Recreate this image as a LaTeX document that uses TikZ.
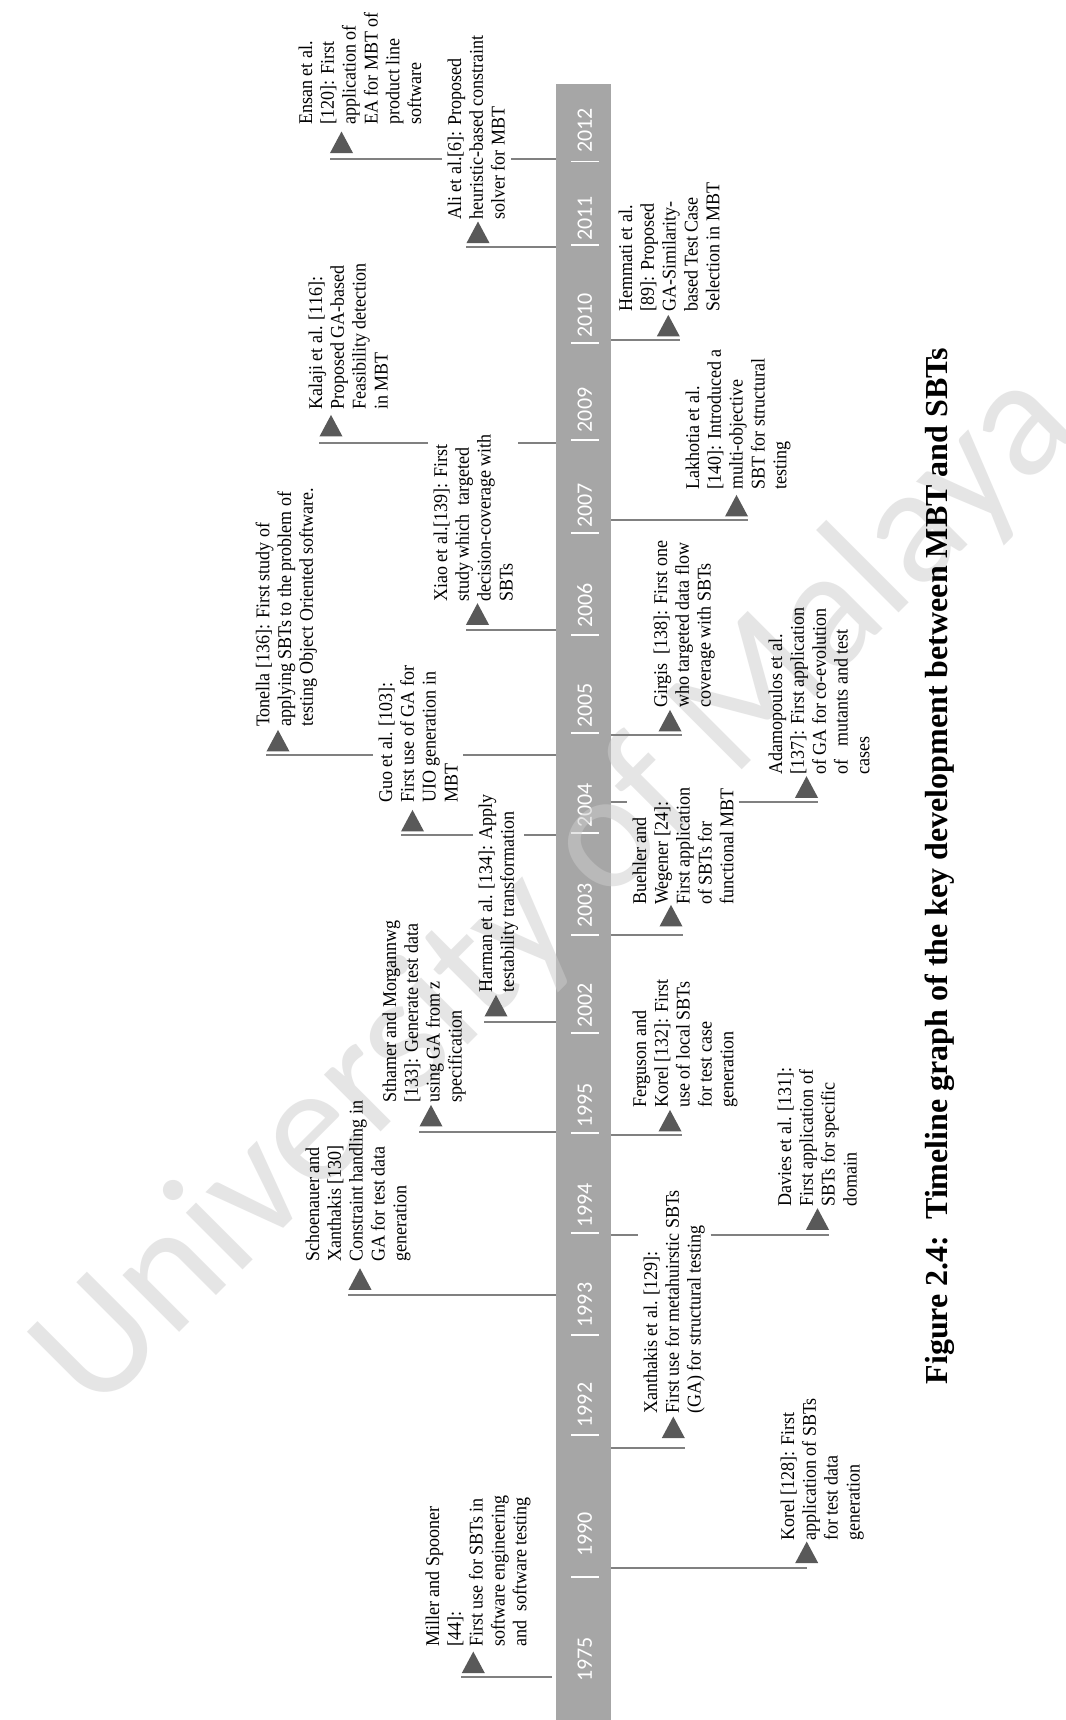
\documentclass[tikz,border=0pt]{standalone}
\usepackage{fontspec}
\setmainfont{Liberation Serif}
\newfontfamily\calib{Carlito}
\usetikzlibrary{shapes.geometric}

\definecolor{barcol}{RGB}{166,166,166}
\definecolor{conncol}{RGB}{128,128,128}
\definecolor{tricol}{RGB}{89,89,89}
\definecolor{wmcol}{RGB}{204,204,204}

\tikzset{
  conn/.style={draw=conncol, line width=1.8pt},
  tripoint/.style={regular polygon, regular polygon sides=3, minimum size=26.6pt,
    inner sep=0pt, fill=tricol, anchor=side 2, yscale=1.08},
  evtext/.style={rotate=90, yscale=1.08, anchor=north west, align=left, inner sep=5pt,
    font=\fontsize{18}{20.2}\selectfont},
  yearlabel/.style={rotate=90, text=white, inner sep=0pt,
    font=\calib\fontsize{22}{22}\selectfont},
  yeartick/.style={draw=white, line width=1.6pt},
}

\begin{document}
\begin{tikzpicture}[x=1pt,y=-1pt]
\fill[white] (0,0) rectangle (1065,1720);
\useasboundingbox (0,0) rectangle (1065,1720);

% timeline bar
\node[fill=barcol, inner sep=0pt, minimum width=55pt, minimum height=1636pt,
  anchor=north west] (bar) at (556,84) {};

% year labels and ticks
\foreach \yr/\yy in {2012/130.5, 2011/218.5, 2010/315.5, 2009/410, 2007/505.5,
  2006/605.5, 2005/705.5, 2004/805.5, 2003/905.5, 2002/1005.5, 1995/1105.5,
  1994/1205.5, 1993/1305, 1992/1405, 1990/1534.5, 1975/1659.5}
  \node[yearlabel] (y\yr) at (584.7,\yy) {\yr};
\foreach \ty in {161.7, 245, 343, 440, 533, 635, 733, 833, 935, 1033, 1133,
  1233, 1335, 1435, 1577}
  \draw[yeartick] (571,\ty) -- (599,\ty);

% watermark
\node[rotate=45, text=wmcol, text opacity=0.5, inner sep=0pt,
  font=\calib\fontsize{168}{168}\selectfont] (wm) at (557,892) {University of Malaya};

% event texts: right of the bar
\node[evtext] (hem) at (613,317) {Hemmati et al.\\ {[}89]: Proposed\\ GA-Similarity-\\ based Test Case\\ Selection in MBT};
\node[evtext] (lak) at (680,495) {Lakhotia et al.\\ {[}140]: Introduced a\\ multi-objective\\ SBT for structural\\ testing};
\node[evtext] (gir) at (648,713) {Girgis\ \ [138]: First one\\ who targeted data flow\\ coverage with SBTs};
\node[evtext] (ada) at (763,780) {Adamopoulos et al.\\ {[}137]: First application\\ of GA for co-evolution\\ of\ \ \ mutants and test\\ cases};
\node[evtext] (bue) at (627,910) {Buehler and\\ Wegener [24]:\\ First application\\ of SBTs for\\ functional MBT};
\node[evtext] (fer) at (627,1113) {Ferguson and\\ Korel [132]: First\\ use of local SBTs\\ for test case\\ generation};
\node[evtext] (dav) at (772,1212) {Davies et al. [131]:\\ First application of\\ SBTs for specific\\ domain};
\node[evtext] (xan) at (638,1419) {Xanthakis et al. [129]:\\ First use for metahuirstic SBTs\\ (GA) for structural testing};
\node[evtext] (kor) at (775,1546) {Korel [128]: First\\ application of SBTs\\ for test data\\ generation};

% event texts: left of the bar
\node[evtext] (ens) at (293,130) {Ensan et al.\\ {[}120]: First\\ application of\\ EA for MBT of\\ product line\\ software};
\node[evtext] (ali) at (442,225) {Ali et al.[6]: Proposed\\ heuristic-based constraint\\ solver for MBT};
\node[evtext] (kal) at (303,415) {Kalaji et al. [116]:\\ Proposed GA-based\\ Feasibility detection\\ in MBT};
\node[evtext] (xia) at (428,607) {Xiao et al.[139]: First\\ study which\ \ targeted\\ decision-coverage with\\ SBTs};
\node[evtext] (ton) at (250,732) {Tonella [136]: First study of\\ applying SBTs to the problem of\\ testing Object Oriented software.};
\node[evtext] (guo) at (373,808) {Guo et al. [103]:\\ First use of GA for\\ UIO generation in\\ MBT};
\node[evtext] (har) at (473,998) {Harman et al. [134]: Apply\\ testability transformation};
\node[evtext] (sth) at (377,1108) {Sthamer and Morgannwg\\ {[}133]: Generate test data\\ using GA from z\\ specification};
\node[evtext] (sch) at (300,1267) {Schoenauer and\\ Xanthakis [130]\\ Constraint handling in\\ GA for test data\\ generation};
\node[evtext] (mil) at (420,1652) {Miller and Spooner\\ {[}44]:\\ First use for SBTs in\\ software engineering\\ and\ \ software testing};

% markers
\node[tripoint] (hem-t) at (668.3,336.7) {};
\node[tripoint] (lak-t) at (736.5,516.7) {};
\node[tripoint] (gir-t) at (670,731.7) {};
\node[tripoint] (ada-t) at (806.5,798) {};
\node[tripoint] (bue-t) at (671,926.7) {};
\node[tripoint] (fer-t) at (670,1131.7) {};
\node[tripoint] (dav-t) at (817.5,1230) {};
\node[tripoint] (xan-t) at (673.3,1438.3) {};
\node[tripoint] (kor-t) at (806.7,1563.3) {};
\node[tripoint] (ens-t) at (341.5,153.3) {};
\node[tripoint] (ali-t) at (478,243.3) {};
\node[tripoint] (kal-t) at (331,436.7) {};
\node[tripoint] (xia-t) at (477.5,625) {};
\node[tripoint] (ton-t) at (278,751.7) {};
\node[tripoint] (guo-t) at (412.5,831.7) {};
\node[tripoint] (har-t) at (496,1016.7) {};
\node[tripoint] (sth-t) at (431,1126.7) {};
\node[tripoint] (sch-t) at (360,1290) {};
\node[tripoint] (mil-t) at (473.3,1673.3) {};

% connector origins on the bar
\coordinate (hem-o) at (611,340);
\coordinate (lak-o) at (611,520);
\coordinate (gir-o) at (611,735);
\coordinate (ada-o) at (611,801.7);
\coordinate (bue-o) at (611,935);
\coordinate (fer-o) at (611,1135);
\coordinate (dav-o) at (611,1235);
\coordinate (xan-o) at (611,1448.3);
\coordinate (kor-o) at (611,1568.3);
\coordinate (ens-o) at (556,159.3);
\coordinate (ali-o) at (556,246.7);
\coordinate (kal-o) at (556,443.3);
\coordinate (xia-o) at (556,630);
\coordinate (ton-o) at (556,755);
\coordinate (guo-o) at (556,835);
\coordinate (har-o) at (556,1021.7);
\coordinate (sth-o) at (556,1131.7);
\coordinate (sch-o) at (556,1295);
\coordinate (mil-o) at (552,1676.7);

% connectors to the right
\foreach \e in {hem,lak,gir,bue,fer,xan}
  \draw[conn] (\e-o) -- (\e-o -| \e-t.corner 3);
\draw[conn] (kor-o) -- (kor-o -| kor-t.center);
\draw[conn] (ada-o) -- (ada-o -| bue.north) (ada-o -| bue.south) -- (ada-o -| ada-t.corner 3);
\draw[conn] (dav-o) -- (dav-o -| xan.north) (dav-o -| xan.south) -- (dav-o -| dav-t.corner 3);

% connectors to the left
\foreach \e in {ali,xia,har,sth,sch,mil}
  \draw[conn] (\e-o) -- (\e-o -| \e-t.corner 2);
\draw[conn] (ens-o) -- (ens-o -| ali.south) (ens-o -| ali.north) -- (ens-o -| ens-t.corner 2);
\draw[conn] (kal-o) -- (kal-o -| xia.south) (kal-o -| xia.north) -- (kal-o -| kal-t.corner 2);
\draw[conn] (ton-o) -- (ton-o -| guo.south) (ton-o -| guo.north) -- (ton-o -| ton-t.corner 2);
\draw[conn] (guo-o) -- (guo-o -| har.south) (guo-o -| har.north) -- (guo-o -| guo-t.corner 2);

% caption
\node[rotate=90, inner sep=0pt, font=\bfseries\fontsize{32}{32}\selectfont] (title)
  at (940,866) {Figure 2.4:\ \ Timeline graph of the key development between MBT and SBTs};
\end{tikzpicture}
\end{document}
